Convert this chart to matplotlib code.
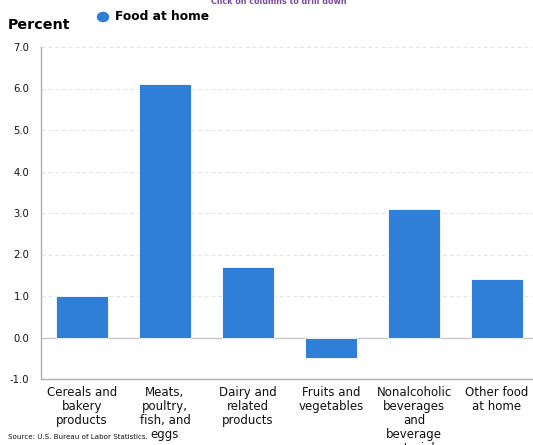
import matplotlib.pyplot as plt

categories = ["Cereals and\nbakery\nproducts", "Meats,\npoultry,\nfish, and\neggs",
              "Dairy and\nrelated\nproducts", "Fruits and\nvegetables",
              "Nonalcoholic\nbeverages\nand\nbeverage\nmaterials", "Other food\nat home"]
values = [1.0, 6.1, 1.7, -0.5, 3.1, 1.4]
yticks = [-1.0, 0.0, 1.0, 2.0, 3.0, 4.0, 5.0, 6.0, 7.0]

W, H = 533, 445
fig = plt.figure(figsize=(W / 100, H / 100), dpi=100)
# plot area runs past the right edge, as in the original
ax = fig.add_axes([40.5 / W, 1 - 379 / H, 498 / W, 332 / H])

color = "#2f7ed8"
x = range(len(values))
ax.bar(x, values, width=0.63, color=color, edgecolor="white", linewidth=0.6, zorder=3)

ax.set_xlim(-0.5, len(values) - 0.5)
ax.set_ylim(-1.0, 7.0)
ax.set_yticks(yticks)
ax.set_yticklabels([f"{v:.1f}" for v in yticks], fontsize=7.2, color="#111111")
ax.set_xticks(list(x))
ax.set_xticklabels(categories, fontsize=8.5, color="#111111", linespacing=1.1, va="top")
ax.tick_params(axis="both", length=0)
ax.tick_params(axis="y", pad=8)
ax.tick_params(axis="x", pad=5)

for v in yticks:
    if v == 0:
        ax.axhline(0, color="#c8c8c8", lw=1.0, zorder=2)
    elif v > -1:
        ax.axhline(v, color="#e3e3e3", lw=0.7, ls=(0, (4, 3)), zorder=1)

for s in ["top", "right"]:
    ax.spines[s].set_visible(False)
for s in ["left", "bottom"]:
    ax.spines[s].set_color("#b0b0b0")
    ax.spines[s].set_linewidth(1.0)

fig.text(8 / W, 1 - 25 / H, "Percent", fontsize=10.3, fontweight="bold", va="center", ha="left")
fig.text(279 / W, 1 - 2 / H, "Click on columns to drill down", fontsize=5.8,
         fontweight="bold", color="#7a4c9c", ha="center", va="center")
fig.patches.append(plt.Circle((103 / W, 1 - 17 / H), 5.5 / W, transform=fig.transFigure,
                              color=color, figure=fig))
fig.text(115 / W, 1 - 17 / H, "Food at home", fontsize=8.8, fontweight="bold", va="center", ha="left")
fig.text(8 / W, 1 - 437 / H, "Source: U.S. Bureau of Labor Statistics.", fontsize=5.1,
         va="center", ha="left", color="#111111")

fig.savefig("out.png", dpi=100)
